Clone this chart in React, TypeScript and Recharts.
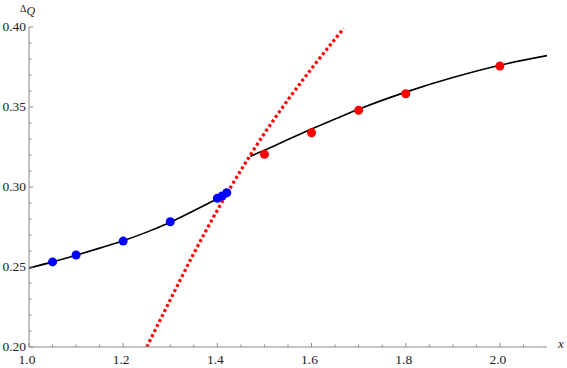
import { ComposedChart, Line, Scatter, XAxis, YAxis } from "recharts";

// measured points
const blueX = [1.05, 1.1, 1.2, 1.3, 1.4, 1.41, 1.42];
const blueY = [0.2532, 0.2575, 0.2662, 0.2783, 0.2929, 0.2944, 0.2964];
const redX = [1.5, 1.6, 1.7, 1.8, 2.0];
const redY = [0.3204, 0.3339, 0.3479, 0.3583, 0.3756];

// black fit curves (two branches)
const lowX = [1.0, 1.05, 1.1, 1.15, 1.2, 1.25, 1.3, 1.35, 1.4, 1.42];
const lowY = [0.2493, 0.2532, 0.2574, 0.2618, 0.2664, 0.2718, 0.278, 0.2852, 0.2928, 0.2963];
const highX = [1.47, 1.5, 1.55, 1.6, 1.65, 1.7, 1.8, 1.9, 2.0, 2.1];
const highY = [0.3192, 0.323, 0.3297, 0.3362, 0.3425, 0.3486, 0.3593, 0.3684, 0.3761, 0.3821];

// red dotted curve
const dotX = [1.25, 1.3, 1.35, 1.4, 1.45, 1.5, 1.55, 1.6, 1.65, 1.668];
const dotY = [0.2, 0.2295, 0.2585, 0.2855, 0.3105, 0.3335, 0.3545, 0.374, 0.3925, 0.399];

// ticks
const xTicks = [1.0, 1.05, 1.1, 1.15, 1.2, 1.25, 1.3, 1.35, 1.4, 1.45, 1.5, 1.55, 1.6, 1.65, 1.7, 1.75, 1.8, 1.85, 1.9, 1.95, 2.0, 2.05];
const xLabels = [1.0, 1.2, 1.4, 1.6, 1.8, 2.0];
const yTicks = [0.2, 0.21, 0.22, 0.23, 0.24, 0.25, 0.26, 0.27, 0.28, 0.29, 0.3, 0.31, 0.32, 0.33, 0.34, 0.35, 0.36, 0.37, 0.38, 0.39, 0.4];
const yLabels = [0.2, 0.25, 0.3, 0.35, 0.4];

const zip = (xs: number[], ys: number[]) => xs.map((x, i) => ({ x, y: ys[i] }));

const FONT = "'Liberation Serif', 'DejaVu Serif', 'Times New Roman', Times, serif";
const AXIS = "#8a8a8a";
const textStyle = { fontFamily: FONT };

const isLabel = (list: number[], v: number) => list.some((t) => Math.abs(t - v) < 1e-6);

const XTick = (props: any) => {
  const { x, y, payload } = props;
  const major = isLabel(xLabels, payload.value);
  return (
    <g>
      <line x1={x} x2={x} y1={y} y2={y - (major ? 4 : 2.5)} stroke={AXIS} strokeWidth={1} />
      {major && (
        <text x={x - 2} y={y + 17} textAnchor="middle" style={textStyle} fontSize={13.5} fill="#222">
          {payload.value.toFixed(1)}
        </text>
      )}
    </g>
  );
};

const YTick = (props: any) => {
  const { x, y, payload } = props;
  const major = isLabel(yLabels, payload.value);
  return (
    <g>
      <line x1={x} x2={x + (major ? 4 : 2.5)} y1={y} y2={y} stroke={AXIS} strokeWidth={1} />
      {major && (
        <text x={x - 3} y={y + 4} textAnchor="end" style={textStyle} fontSize={13.5} fill="#222">
          {payload.value.toFixed(2)}
        </text>
      )}
    </g>
  );
};

const dot = (color: string) => (props: any) => (
  <circle cx={props.cx} cy={props.cy} r={4.5} fill={color} />
);

export default function App() {
  return (
    <div style={{ position: "absolute", left: 0, top: 0, width: 567, height: 368, background: "#fff", fontFamily: FONT }}>
      <ComposedChart width={567} height={368} margin={{ top: 27, right: 20, bottom: 0, left: 0 }}>
        <XAxis
          type="number"
          dataKey="x"
          domain={[1.0, 2.1]}
          ticks={xTicks}
          allowDataOverflow
          height={21}
          tickSize={0}
          tickMargin={0}
          tickLine={false}
          axisLine={{ stroke: AXIS }}
          tick={<XTick />}
          interval={0}
        />
        <YAxis
          type="number"
          dataKey="y"
          domain={[0.2, 0.4]}
          ticks={yTicks}
          allowDataOverflow
          width={29}
          tickSize={0}
          tickMargin={0}
          tickLine={false}
          axisLine={{ stroke: AXIS }}
          tick={<YTick />}
          interval={0}
        />
        <Line data={zip(lowX, lowY)} dataKey="y" type="monotone" stroke="#000" strokeWidth={1.6} dot={false} isAnimationActive={false} />
        <Line data={zip(highX, highY)} dataKey="y" type="monotone" stroke="#000" strokeWidth={1.6} dot={false} isAnimationActive={false} />
        <Scatter data={zip(blueX, blueY)} dataKey="y" shape={dot("#0000ff")} isAnimationActive={false} />
        <Scatter data={zip(redX, redY)} dataKey="y" shape={dot("#ff0000")} isAnimationActive={false} />
        <Line data={zip(dotX, dotY)} dataKey="y" type="monotone" stroke="#ff0000" strokeWidth={3.2} strokeDasharray="3 2.6" dot={false} isAnimationActive={false} />
      </ComposedChart>
      <div style={{ position: "absolute", left: 20, top: -2, color: "#222", whiteSpace: "nowrap" }}>
        <span style={{ fontSize: 10 }}>Δ</span>
        <span style={{ fontSize: 12, fontStyle: "italic", position: "relative", top: 3 }}>Q</span>
      </div>
      <div style={{ position: "absolute", left: 558, top: 336, fontSize: 13, fontStyle: "italic", color: "#222" }}>
        x
      </div>
    </div>
  );
}
